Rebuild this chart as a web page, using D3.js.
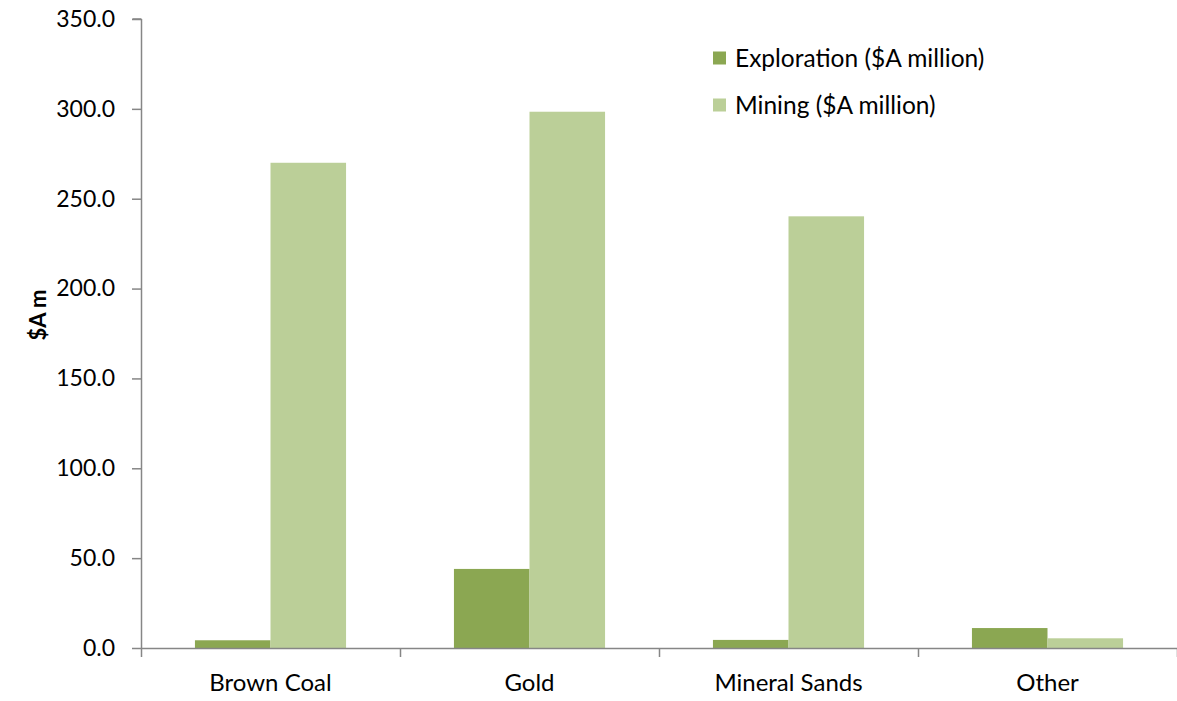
<!DOCTYPE html>
<html>
<head>
<meta charset="utf-8">
<script src="https://cdn.jsdelivr.net/npm/d3@7"></script>
<style>
  html, body { margin: 0; padding: 0; background: #fff; }
  svg { display: block; font-family: Lato, "Open Sans", sans-serif; }
</style>
</head>
<body>
<svg id="chart" width="1177" height="701"></svg>
<script>
// Expenditure by commodity
const categories = ["Brown Coal", "Gold", "Mineral Sands", "Other"];
const seriesNames = ["Exploration ($A million)", "Mining ($A million)"];
const exploration = [4.3, 44.0, 4.5, 11.1];
const mining = [270.0, 298.4, 240.2, 5.4];
const yTicks = [0, 50, 100, 150, 200, 250, 300, 350];
const colors = ["#8BA752", "#BBCF98"];

const svg = d3.select("#chart");
const margin = { left: 141, right: 0, top: 19, bottom: 53 };
const W = 1177, H = 701;
const fontFamily = "Lato, 'Open Sans', sans-serif";

const x = d3.scaleBand().domain(categories).range([margin.left, W - margin.right]);
const xs = d3.scaleBand().domain(seriesNames).range([0, x.bandwidth()]).paddingInner(0).paddingOuter(0.714);
const y = d3.scaleLinear().domain([0, 350]).range([H - margin.bottom, margin.top]);

const axisColor = "#868686";

// bars
const rows = categories.map((c, i) => ({ c, vals: [exploration[i], mining[i]] }));
const g = svg.append("g");
rows.forEach(r => {
  r.vals.forEach((v, j) => {
    g.append("rect")
      .attr("x", x(r.c) + xs(seriesNames[j]))
      .attr("width", xs.bandwidth())
      .attr("y", y(v))
      .attr("height", y(0) - y(v))
      .attr("fill", colors[j]);
  });
});

// y axis
const yAxis = svg.append("g")
  .attr("transform", `translate(${margin.left},0)`)
  .call(d3.axisLeft(y).tickValues(yTicks).tickFormat(d3.format(".1f")).tickSize(9).tickPadding(17));
yAxis.attr("font-family", fontFamily);
yAxis.select(".domain").attr("stroke", axisColor).attr("stroke-width", 1.5).attr("d", `M0.5,${y(350)}H-8.5M0.5,${y(350)}V${y(0)}`);
yAxis.selectAll(".tick line").attr("stroke", axisColor).attr("stroke-width", 1.5);
yAxis.selectAll(".tick text").attr("font-size", 23).attr("fill", "#000");

// x axis
const xAxis = svg.append("g")
  .attr("transform", `translate(0,${y(0)})`)
  .call(d3.axisBottom(x).tickSize(0).tickPadding(26));
xAxis.attr("font-family", fontFamily);
xAxis.select(".domain").attr("stroke", axisColor).attr("stroke-width", 1.5);
xAxis.selectAll(".tick text").attr("font-size", 24).attr("fill", "#000");
// category boundary ticks
const bounds = categories.map(c => x(c)).concat([x.range()[1]]);
xAxis.selectAll(".bound").data(bounds).enter().append("line")
  .attr("class", "bound")
  .attr("x1", d => d + 0.5).attr("x2", d => d + 0.5)
  .attr("y1", 0).attr("y2", 9)
  .attr("stroke", axisColor).attr("stroke-width", 1.5);

// y axis title
svg.append("text")
  .attr("transform", `translate(46,315) rotate(-90)`)
  .attr("text-anchor", "middle")
  .attr("font-size", 22)
  .attr("font-weight", "bold")
  .text("$A m");

// legend
const legend = svg.append("g");
seriesNames.forEach((s, i) => {
  const cy = 58 + i * 47;
  legend.append("rect").attr("x", 713).attr("y", cy - 6.5).attr("width", 13).attr("height", 13).attr("fill", colors[i]);
  legend.append("text").attr("x", 735).attr("y", cy).attr("dy", "0.35em").attr("font-size", 24.5).text(s);
});
</script>
</body>
</html>
